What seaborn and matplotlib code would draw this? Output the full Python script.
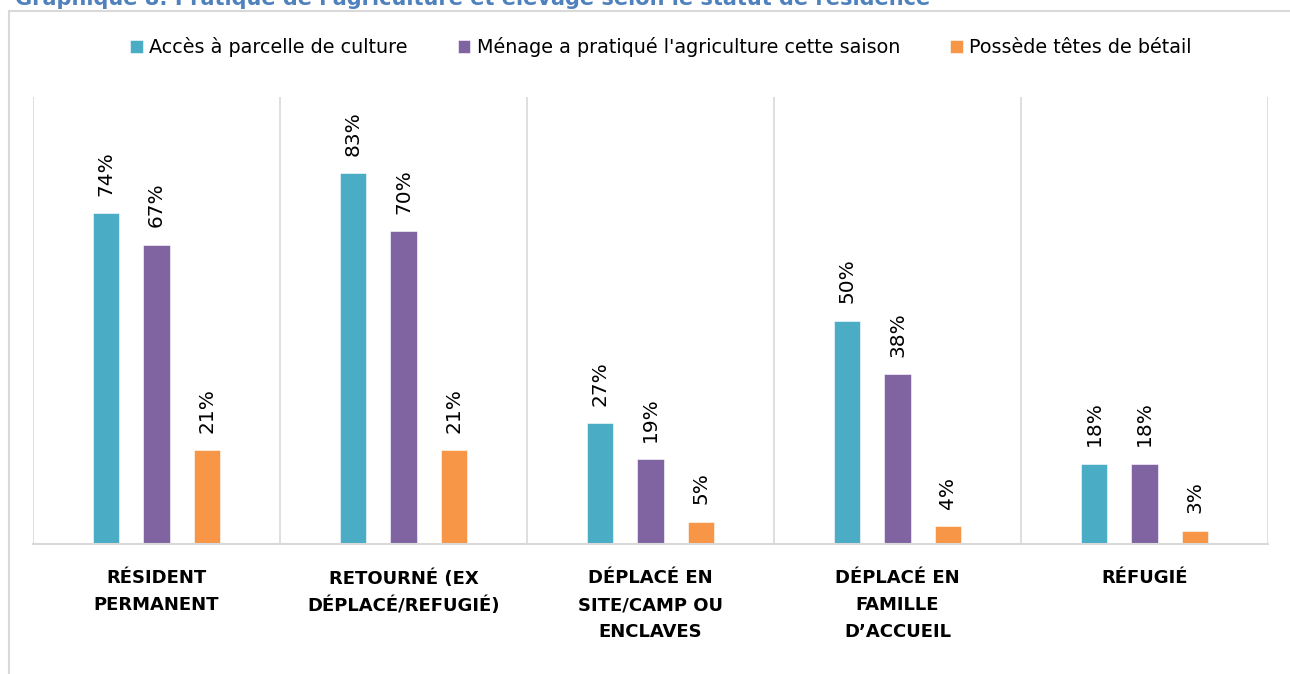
"""
Graphique 8 : pratique de l'agriculture et élevage selon le statut de résidence
"""

import matplotlib.pyplot as plt
import pandas as pd
import seaborn as sns
from matplotlib.lines import Line2D


# Theme first, fonts after (set_theme resets font.family)
sns.set_theme(style='white')
plt.rcParams['font.family'] = ['DejaVu Sans']

STATUTS = [
    'RÉSIDENT\nPERMANENT',
    'RETOURNÉ (EX\nDÉPLACÉ/REFUGIÉ)',
    'DÉPLACÉ EN\nSITE/CAMP OU\nENCLAVES',
    'DÉPLACÉ EN\nFAMILLE\nD’ACCUEIL',
    'RÉFUGIÉ',
]
INDICATEURS = [
    'Accès à parcelle de culture',
    "Ménage a pratiqué l'agriculture cette saison",
    'Possède têtes de bétail',
]
ACCES_PARCELLE = [74, 83, 27, 50, 18]
AGRICULTURE_SAISON = [67, 70, 19, 38, 18]
TETES_BETAIL = [21, 21, 5, 4, 3]
COULEURS = ['#4BACC6', '#8064A2', '#F79646']

TITRE = "Graphique 8: Pratique de l'agriculture et élevage selon le statut de résidence"

# Long format table for seaborn
df = pd.DataFrame({
    'statut': STATUTS * 3,
    'indicateur': [INDICATEURS[0]] * 5 + [INDICATEURS[1]] * 5 + [INDICATEURS[2]] * 5,
    'valeur': ACCES_PARCELLE + AGRICULTURE_SAISON + TETES_BETAIL,
})

fig = plt.figure(figsize=(12.9, 6.74), dpi=100)
ax = fig.add_axes([33 / 1290, 1 - 544 / 674, (1268 - 33) / 1290, (544 - 97) / 674])

sns.barplot(data=df, x='statut', y='valeur', hue='indicateur', order=STATUTS,
            hue_order=INDICATEURS, palette=COULEURS, width=0.612, gap=0.47,
            saturation=1, edgecolor='white', linewidth=0.4, ax=ax)

# Rotated value labels above each bar
for container in ax.containers:
    ax.bar_label(container, labels=[f'{v:.0f}%' for v in container.datavalues],
                 rotation=90, padding=12.5, fontsize=14.5, color='black')

ax.set_xlim(-0.5, len(STATUTS) - 0.5)
ax.set_ylim(0, 100)
ax.set_xlabel('')
ax.set_ylabel('')
ax.set_yticks([])

# Category separators
ax.vlines([i - 0.5 for i in range(len(STATUTS) + 1)], 0, 100, color='#D9D9D9', linewidth=1.2, zorder=0)
for side in ['left', 'right', 'top']:
    ax.spines[side].set_visible(False)
ax.spines['bottom'].set_color('#D9D9D9')
ax.spines['bottom'].set_linewidth(1.5)

ax.tick_params(axis='x', length=0, pad=18)
for label in ax.get_xticklabels():
    label.set_fontweight('bold')
    label.set_fontsize(13)
    label.set_linespacing(1.65)
    label.set_color('black')

# Legend at the top
legend = ax.legend(loc='center', bbox_to_anchor=(661 / 1290, 1 - 47 / 674), bbox_transform=fig.transFigure,
                   ncol=3, frameon=False, fontsize=13.8, handlelength=0.65, handleheight=0.65,
                   handletextpad=0.35, columnspacing=2.6)
for text in legend.get_texts():
    text.set_color('black')

# Outer chart border (partially visible)
fig.add_artist(Line2D([9 / 1290, 9 / 1290], [0, 1 - 11 / 674], transform=fig.transFigure,
                      color='#D9D9D9', linewidth=1.5))
fig.add_artist(Line2D([9 / 1290, 1], [1 - 11 / 674, 1 - 11 / 674], transform=fig.transFigure,
                      color='#D9D9D9', linewidth=1.5))

# Title, clipped at the top edge as in the source
fig.text(15 / 1290, 1 - 5 / 674, TITRE, color='#4F81BD', fontweight='bold', fontsize=15,
         ha='left', va='baseline')

fig.savefig('out.png', dpi=100)
